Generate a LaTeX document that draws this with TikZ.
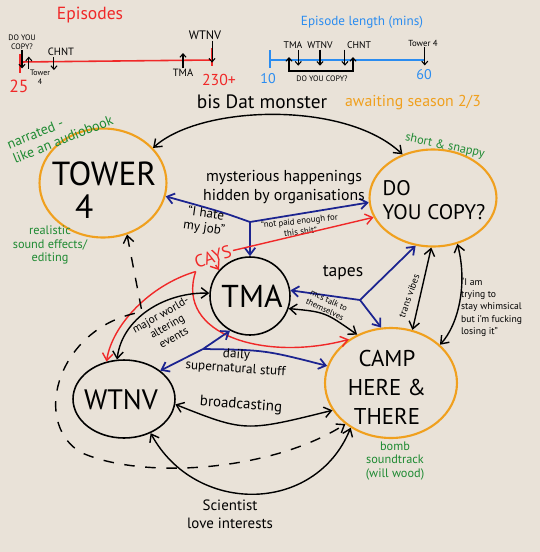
\documentclass[tikz,border=0pt]{standalone}
\usepackage{fontspec}
\setmainfont{PT Sans}
\usetikzlibrary{shapes.geometric,arrows.meta}

\definecolor{paper}{HTML}{E9E2D8}
\definecolor{showorange}{HTML}{F0A01E}
\definecolor{inkred}{HTML}{F02828}
\definecolor{inknavy}{HTML}{1C2490}
\definecolor{inkblue}{HTML}{2A8CF0}
\definecolor{inkgreen}{HTML}{1E8A32}

\newcommand{\inksize}[2]{\fontsize{#1}{#2}\selectfont}

\begin{document}
\begin{tikzpicture}[
  x=0.02cm, y=-0.02cm,
  >={Straight Barb[length=4pt,width=6pt]},
  showbox/.style={ellipse,draw=showorange,line width=1.2pt,inner sep=0pt},
  plainbox/.style={ellipse,draw=black,line width=0.9pt,inner sep=0pt},
  showname/.style={align=center,inner sep=0pt},
  link/.style={<->,line width=0.8pt},
  bluelink/.style={->,draw=inknavy,line width=1pt},
  redlink/.style={->,draw=inkred,line width=0.8pt},
  lbl/.style={align=center,inner sep=1pt},
  note/.style={text=inkgreen,align=center,inner sep=1pt},
  tinylbl/.style={align=center,inner sep=0.5pt,font=\inksize{4.5}{5}},
  tickarrow/.style={line width=0.6pt,>={Straight Barb[length=2pt,width=3.5pt]},->}
]
  \useasboundingbox[fill=paper] (0,0) rectangle (540,552);

  % number of episodes
  \node[text=inkred,font=\inksize{10}{12}] (eptitle) at (90,15) {Episodes};
  \coordinate (epL) at (20,62);
  \coordinate (epR) at (212,60);
  \draw[inkred,line width=0.9pt] (epL) -- (epR);
  \draw[inkred,line width=1.4pt] (20,54) -- (20,73);
  \draw[inkred,line width=1.4pt] (212,48) -- (212,66);
  \node[tinylbl] (ep-dyc) at (22,42) {DO YOU\\COPY?};
  \node[tinylbl] (ep-tower) at (40,77) {Tower\\4};
  \node[tinylbl,font=\inksize{6}{7}] (ep-chnt) at (61,52) {CHNT};
  \node[tinylbl,font=\inksize{6}{7}] (ep-tma) at (183,73) {TMA};
  \node[tinylbl,font=\inksize{7}{8}] (ep-wtnv) at (205,35) {WTNV};
  \node[text=inkred,font=\inksize{10}{12}] (ep-min) at (19,86) {25};
  \node[text=inkred,font=\inksize{9}{11}] (ep-max) at (219,80) {230+};
  \draw[tickarrow] (ep-dyc.south) -- ++(0,18);
  \draw[tickarrow] (ep-tower.north west) -- ++(0,-12);
  \draw[tickarrow] ([xshift=-4pt]ep-chnt.south) -- ++(0,13);
  \draw[tickarrow] (ep-tma.north) -- ++(0,-15);
  \draw[tickarrow] ([xshift=4pt]ep-wtnv.south) -- ++(0,22);

  % episode length
  \node[text=inkblue,font=\inksize{7.5}{9}] (lentitle) at (362,22) {Episode length (mins)};
  \coordinate (lenL) at (270,60);
  \coordinate (lenR) at (425,60);
  \draw[inkblue,line width=0.9pt] (lenL) -- (lenR);
  \draw[inkblue,line width=0.9pt] (270,50) -- (270,68);
  \node[text=inkblue,font=\inksize{8}{9}] (len-min) at (268,79) {10};
  \node[text=inkblue,font=\inksize{8}{9}] (len-max) at (424,75) {60};
  \node[tinylbl,font=\inksize{5.5}{6}] (len-tma) at (293,45) {TMA};
  \node[tinylbl,font=\inksize{5.5}{6}] (len-wtnv) at (320,45) {WTNV};
  \node[tinylbl,font=\inksize{5.5}{6}] (len-chnt) at (359,45) {CHNT};
  \node[tinylbl,font=\inksize{5}{6}] (len-tower) at (423,43) {Tower 4};
  \node[tinylbl] (len-dyc) at (322,79) {DO YOU COPY?};
  \draw[tickarrow] ([xshift=3pt]len-tma.south) -- ++(0,16);
  \draw[tickarrow] (len-wtnv.south) -- ++(0,16);
  \draw[tickarrow] ([xshift=-8pt]len-chnt.south) -- ++(0,16);
  \draw[tickarrow] ([xshift=1pt]len-tower.south) -- ++(0,18);
  \coordinate (dycL) at (289,57);
  \coordinate (dycR) at (353,57);
  \draw[tickarrow,<->] (dycL) -- ++(0,14) -| (dycR);

  % the shows
  \node[showbox,minimum width=2.54cm,minimum height=2.18cm] (tower) at (103,183) {};
  \node[showbox,minimum width=2.54cm,minimum height=1.94cm] (dyc) at (433,198) {};
  \node[plainbox,minimum width=1.6cm,minimum height=1.56cm] (tma) at (250,296) {};
  \node[plainbox,minimum width=2.04cm,minimum height=1.56cm] (wtnv) at (124,399) {};
  \node[showbox,minimum width=2.64cm,minimum height=2.2cm] (camp) at (391,383) {};
  \node[showname,align=left,font=\inksize{19}{19}] (tower-name) at (104,190) {TOWER\\\hspace*{0.7em}4};
  \node[showname,align=left,font=\inksize{12}{14}] (dyc-name) at (434,200) {DO\\YOU COPY?};
  \node[showname,font=\inksize{18}{20}] (tma-name) at (252,296) {TMA};
  \node[showname,font=\inksize{16}{18}] (wtnv-name) at (121,400) {WTNV};
  \node[showname,font=\inksize{13}{16.5}] (camp-name) at (387,387) {CAMP\\HERE \&\\THERE};

  % links
  \draw[link] (tower.35) .. controls (200,105) and (345,100) .. (dyc.125);
  \node[lbl,font=\inksize{11}{13}] (monster) at (262,102) {bis Dat monster};
  \node[lbl,text=showorange,font=\inksize{9}{11}] (awaiting) at (413,103) {awaiting season 2/3};

  \coordinate (mys) at (250,222);
  \draw[bluelink] (mys) .. controls (222,212) .. (tower.-12);
  \draw[bluelink] (mys) -- (dyc.184);
  \draw[bluelink] (mys) -- (tma.north);
  \node[lbl,font=\inksize{9}{11}] (mys-lbl) at (284,187) {mysterious happenings\\hidden by organisations};
  \node[lbl,font=\inksize{7.5}{8},rotate=-8] (hate) at (205,221) {“I hate\\my job”};
  \node[lbl,font=\inksize{5}{6},rotate=6] (paid) at (300,226) {“not paid enough for\\this shit”};

  \node[lbl,text=inkred,font=\inksize{10}{12},rotate=18] (cays) at (213,257) {CAYS};
  \draw[redlink] (cays.east) -- (dyc.198);
  \draw[redlink] (cays.south west) .. controls (150,285) and (112,325) .. (wtnv.115);
  \draw[redlink] (cays.south) -- (tma.140);
  \draw[redlink] (cays.south west) .. controls (175,335) and (265,362) .. (camp.134);

  \coordinate (tapes) at (360,300);
  \draw[bluelink] (tapes) -- (tma.8);
  \draw[bluelink] (tapes) -- (dyc.250);
  \draw[bluelink] (tapes) -- (camp.100);
  \node[lbl,font=\inksize{10}{12}] (tapes-lbl) at (343,273) {tapes};

  \coordinate (daily) at (203,349);
  \draw[bluelink] (daily) -- (wtnv.38);
  \draw[bluelink] (daily) -- (tma.240);
  \draw[bluelink] (daily) .. controls (265,350) .. (camp.165);
  \node[lbl,font=\inksize{7.5}{8},rotate=-4] (daily-lbl) at (236,362) {daily\\supernatural stuff};

  \draw[link] (tma.-18) .. controls (325,312) .. (camp.125);
  \node[lbl,font=\inksize{4.8}{5.5},rotate=-25] (mcs) at (327,305) {mcs talk to\\themselves};

  \draw[link] (wtnv.100) .. controls (122,318) and (165,292) .. (tma.176);
  \node[lbl,font=\inksize{6.5}{7.5},rotate=30] (major) at (167,326) {major world-\\altering\\events};

  \draw[link] (wtnv.-6) .. controls (245,432) .. (camp.205);
  \node[lbl,font=\inksize{8.5}{10},rotate=-4] (bcast) at (241,405) {broadcasting};

  \draw[link] (wtnv.-52) .. controls (195,515) and (315,515) .. (camp.228);
  \node[lbl,font=\inksize{8.5}{10}] (sci) at (230,514) {Scientist\\love interests};

  \draw[link,dash pattern=on 6pt off 6pt] (tower.-65) -- (142,312) .. controls (60,325) and (30,420) .. (80,452) .. controls (140,480) and (270,472) .. (camp.222);

  \draw[link] (dyc.-92) -- (camp.68);
  \node[lbl,font=\inksize{5.5}{6},rotate=70] (trans) at (409,296) {trans vibes};

  \draw[link] (dyc.-62) .. controls (468,285) and (458,325) .. (camp.38);
  \node[lbl,align=left,anchor=west,font=\inksize{5.5}{7}] (whim) at (459,307) {“I am\\trying to\\stay whimsical\\but i'm fucking\\losing it”};

  % notes on each show
  \node[note,align=left,rotate=22,font=\inksize{8}{9}] (narr) at (60,132) {narrated -\\like an audiobook};
  \node[note,font=\inksize{7}{7.5}] (sfx) at (50,245) {realistic\\sound effects/\\editing};
  \node[note,rotate=-12,font=\inksize{7}{8}] (snappy) at (445,146) {short \& snappy};
  \node[note,font=\inksize{7}{7.5}] (bomb) at (395,461) {bomb\\soundtrack\\(will wood)};
\end{tikzpicture}
\end{document}
